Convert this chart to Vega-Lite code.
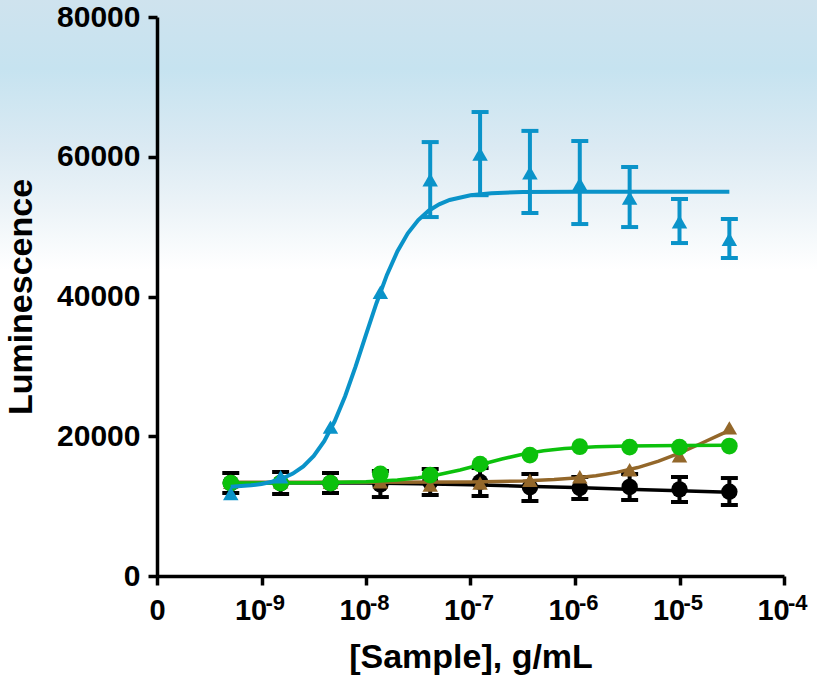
{
  "$schema": "https://vega.github.io/schema/vega-lite/v6.json",
  "width": 627,
  "height": 559,
  "autosize": {"type": "none"},
  "padding": {"left": 157, "top": 17, "right": 33, "bottom": 108},
  "background": "#ffffff",
  "config": {
    "view": {"stroke": null},
    "axis": {
      "grid": false,
      "domainColor": "#000000",
      "domainWidth": 3.5,
      "tickColor": "#000000",
      "tickWidth": 3.5,
      "tickSize": 9,
      "labelFont": "Liberation Sans",
      "labelFontWeight": "bold",
      "labelFontSize": 29,
      "labelColor": "#000000",
      "titleFont": "Liberation Sans",
      "titleFontWeight": "bold",
      "titleFontSize": 34,
      "titleColor": "#000000"
    }
  },
  "datasets": {
    "pts": [
      {"s": "black", "x": 5.081e-10, "y": 13300, "lo": 11880, "hi": 14740},
      {"s": "black", "x": 1.524e-9, "y": 13300, "lo": 11730, "hi": 14880},
      {"s": "black", "x": 4.572e-9, "y": 13300, "lo": 11880, "hi": 14740},
      {"s": "black", "x": 1.372e-8, "y": 13100, "lo": 11300, "hi": 15030},
      {"s": "black", "x": 4.115e-8, "y": 13450, "lo": 11590, "hi": 15310},
      {"s": "black", "x": 1.235e-7, "y": 13450, "lo": 11450, "hi": 15450},
      {"s": "black", "x": 3.704e-7, "y": 12700, "lo": 10730, "hi": 14600},
      {"s": "black", "x": 1.111e-6, "y": 12600, "lo": 11020, "hi": 14170},
      {"s": "black", "x": 3.333e-6, "y": 12750, "lo": 10880, "hi": 14600},
      {"s": "black", "x": 1e-5, "y": 12400, "lo": 10590, "hi": 14170},
      {"s": "black", "x": 3e-5, "y": 12050, "lo": 10160, "hi": 14020},
      {"s": "brown", "x": 5.081e-10, "y": 13400},
      {"s": "brown", "x": 1.524e-9, "y": 13500},
      {"s": "brown", "x": 4.572e-9, "y": 13400},
      {"s": "brown", "x": 1.372e-8, "y": 13500},
      {"s": "brown", "x": 4.115e-8, "y": 13000},
      {"s": "brown", "x": 1.235e-7, "y": 13300},
      {"s": "brown", "x": 3.704e-7, "y": 13700},
      {"s": "brown", "x": 1.111e-6, "y": 14200},
      {"s": "brown", "x": 3.333e-6, "y": 15200},
      {"s": "brown", "x": 1e-5, "y": 17200},
      {"s": "brown", "x": 3e-5, "y": 21200},
      {"s": "green", "x": 5.081e-10, "y": 13300},
      {"s": "green", "x": 1.524e-9, "y": 13300},
      {"s": "green", "x": 4.572e-9, "y": 13300},
      {"s": "green", "x": 1.372e-8, "y": 14600},
      {"s": "green", "x": 4.115e-8, "y": 14450},
      {"s": "green", "x": 1.235e-7, "y": 16000},
      {"s": "green", "x": 3.704e-7, "y": 17300},
      {"s": "green", "x": 1.111e-6, "y": 18500},
      {"s": "green", "x": 3.333e-6, "y": 18450},
      {"s": "green", "x": 1e-5, "y": 18450},
      {"s": "green", "x": 3e-5, "y": 18600},
      {"s": "blue", "x": 5.081e-10, "y": 11800},
      {"s": "blue", "x": 1.524e-9, "y": 14200},
      {"s": "blue", "x": 4.572e-9, "y": 21300},
      {"s": "blue", "x": 1.372e-8, "y": 40600},
      {"s": "blue", "x": 4.115e-8, "y": 56700, "lo": 51370, "hi": 62100},
      {"s": "blue", "x": 1.235e-7, "y": 60400, "lo": 54500, "hi": 66400},
      {"s": "blue", "x": 3.704e-7, "y": 57700, "lo": 51950, "hi": 63700},
      {"s": "blue", "x": 1.111e-6, "y": 56100, "lo": 50370, "hi": 62250},
      {"s": "blue", "x": 3.333e-6, "y": 54100, "lo": 49940, "hi": 58530},
      {"s": "blue", "x": 1e-5, "y": 50700, "lo": 47650, "hi": 53950},
      {"s": "blue", "x": 3e-5, "y": 48200, "lo": 45510, "hi": 51090}
    ],
    "fit": [
      {"s": "black", "x": 5.08e-10, "y": 13350},
      {"s": "black", "x": 1e-8, "y": 13300},
      {"s": "black", "x": 3.162e-8, "y": 13200},
      {"s": "black", "x": 1e-7, "y": 13050},
      {"s": "black", "x": 3.162e-7, "y": 12850},
      {"s": "black", "x": 1e-6, "y": 12650},
      {"s": "black", "x": 3.162e-6, "y": 12400},
      {"s": "black", "x": 1e-5, "y": 12200},
      {"s": "black", "x": 3e-5, "y": 12000},
      {"s": "brown", "x": 5.08e-10, "y": 13400},
      {"s": "brown", "x": 1e-8, "y": 13406},
      {"s": "brown", "x": 1e-7, "y": 13464},
      {"s": "brown", "x": 3.162e-7, "y": 13601},
      {"s": "brown", "x": 6.31e-7, "y": 13794},
      {"s": "brown", "x": 1e-6, "y": 14013},
      {"s": "brown", "x": 1.585e-6, "y": 14343},
      {"s": "brown", "x": 2.512e-6, "y": 14829},
      {"s": "brown", "x": 3.981e-6, "y": 15518},
      {"s": "brown", "x": 6.31e-6, "y": 16442},
      {"s": "brown", "x": 1e-5, "y": 17599},
      {"s": "brown", "x": 1.585e-5, "y": 18924},
      {"s": "brown", "x": 2.512e-5, "y": 20298},
      {"s": "brown", "x": 3e-5, "y": 20810},
      {"s": "green", "x": 5.08e-10, "y": 13304},
      {"s": "green", "x": 3.162e-9, "y": 13343},
      {"s": "green", "x": 1e-8, "y": 13488},
      {"s": "green", "x": 1.995e-8, "y": 13739},
      {"s": "green", "x": 3.162e-8, "y": 14049},
      {"s": "green", "x": 5.012e-8, "y": 14524},
      {"s": "green", "x": 7.943e-8, "y": 15178},
      {"s": "green", "x": 1.259e-7, "y": 15960},
      {"s": "green", "x": 1.995e-7, "y": 16748},
      {"s": "green", "x": 3.162e-7, "y": 17419},
      {"s": "green", "x": 5.012e-7, "y": 17912},
      {"s": "green", "x": 7.943e-7, "y": 18236},
      {"s": "green", "x": 1.585e-6, "y": 18501},
      {"s": "green", "x": 3.162e-6, "y": 18617},
      {"s": "green", "x": 1e-5, "y": 18681},
      {"s": "green", "x": 3e-5, "y": 18695},
      {"s": "blue", "x": 5.08e-10, "y": 12763},
      {"s": "blue", "x": 7.94e-10, "y": 12975},
      {"s": "blue", "x": 1e-9, "y": 13177},
      {"s": "blue", "x": 1.259e-9, "y": 13485},
      {"s": "blue", "x": 1.585e-9, "y": 13953},
      {"s": "blue", "x": 1.995e-9, "y": 14655},
      {"s": "blue", "x": 2.512e-9, "y": 15693},
      {"s": "blue", "x": 3.162e-9, "y": 17196},
      {"s": "blue", "x": 3.981e-9, "y": 19307},
      {"s": "blue", "x": 5.012e-9, "y": 22141},
      {"s": "blue", "x": 6.31e-9, "y": 25730},
      {"s": "blue", "x": 7.943e-9, "y": 29961},
      {"s": "blue", "x": 1e-8, "y": 34538},
      {"s": "blue", "x": 1.259e-8, "y": 39036},
      {"s": "blue", "x": 1.585e-8, "y": 43089},
      {"s": "blue", "x": 1.995e-8, "y": 46444},
      {"s": "blue", "x": 2.512e-8, "y": 49039},
      {"s": "blue", "x": 3.162e-8, "y": 50937},
      {"s": "blue", "x": 3.981e-8, "y": 52282},
      {"s": "blue", "x": 5.012e-8, "y": 53197},
      {"s": "blue", "x": 6.31e-8, "y": 53817},
      {"s": "blue", "x": 1e-7, "y": 54496},
      {"s": "blue", "x": 1.585e-7, "y": 54788},
      {"s": "blue", "x": 3.162e-7, "y": 54942},
      {"s": "blue", "x": 1e-6, "y": 54994},
      {"s": "blue", "x": 1e-5, "y": 55000},
      {"s": "blue", "x": 3e-5, "y": 55000}
    ],
    "exps": [
      {"x": 1e-9, "t": "-9"},
      {"x": 1e-8, "t": "-8"},
      {"x": 1e-7, "t": "-7"},
      {"x": 1e-6, "t": "-6"},
      {"x": 1e-5, "t": "-5"},
      {"x": 1e-4, "t": "-4"}
    ]
  },
  "layer": [
    {
      "data": {"values": [{"b": 1}]},
      "mark": {
        "type": "rect",
        "clip": false,
        "fill": {
          "gradient": "linear", "x1": 0, "y1": 0, "x2": 0, "y2": 1,
          "stops": [
            {"offset": 0, "color": "#cfe3ee"},
            {"offset": 0.26, "color": "#c6e3f0"},
            {"offset": 0.55, "color": "#dbeaf3"},
            {"offset": 0.78, "color": "#edf4f8"},
            {"offset": 1, "color": "#ffffff"}
          ]
        }
      },
      "encoding": {
        "x": {
          "datum": 1e-12, "type": "quantitative",
          "scale": {"type": "log", "domain": [1e-10, 1e-4]},
          "title": "[Sample], g/mL",
          "axis": {
            "title": "[Sample], g/mL",
            "zindex": 2,
            "values": [1e-10, 1e-9, 1e-8, 1e-7, 1e-6, 1e-5, 1e-4],
            "labelExpr": "datum.value < 2e-10 ? '0' : '10'",
            "labelOffset": {"condition": {"test": "datum.value < 2e-10", "value": 0}, "value": -11},
            "labelPadding": 11,
            "titlePadding": 15,
            "labelFlush": false,
            "labelOverlap": false
          }
        },
        "x2": {"datum": 1e-2},
        "y": {
          "datum": 82600, "type": "quantitative",
          "scale": {"domain": [0, 80000], "nice": false, "zero": true},
          "title": "Luminescence",
          "axis": {
            "title": "Luminescence",
            "zindex": 2,
            "values": [0, 20000, 40000, 60000, 80000],
            "format": "d",
            "labelFontSize": 30,
            "labelPadding": 8,
            "titlePadding": 18,
            "labelFlush": false,
            "labelOverlap": false
          }
        },
        "y2": {"datum": 43790}
      }
    },
    {
      "data": {"name": "exps"},
      "mark": {"type": "text", "align": "left", "baseline": "top", "dx": 4, "dy": 17, "font": "Liberation Sans", "fontWeight": "bold", "fontSize": 22, "color": "#000000"},
      "encoding": {
        "x": {"field": "x", "type": "quantitative", "title": "[Sample], g/mL"},
        "y": {"datum": 0, "type": "quantitative", "title": "Luminescence"},
        "text": {"field": "t"}
      }
    },
    {
      "encoding": {
        "x": {"field": "x", "type": "quantitative", "title": "[Sample], g/mL"},
        "y": {"field": "y", "type": "quantitative", "title": "Luminescence"}
      },
      "layer": [
        {"data": {"name": "fit"}, "transform": [{"filter": "datum.s == 'black'"}], "mark": {"type": "line", "color": "#000000", "strokeWidth": 3.5}},
        {"data": {"name": "pts"}, "transform": [{"filter": "datum.s == 'black' && isValid(datum.lo)"}], "mark": {"type": "rule", "color": "#000000", "strokeWidth": 4}, "encoding": {"y": {"field": "lo", "type": "quantitative", "title": "Luminescence"}, "y2": {"field": "hi"}}},
        {"data": {"name": "pts"}, "transform": [{"filter": "datum.s == 'black' && isValid(datum.lo)"}], "mark": {"type": "tick", "orient": "horizontal", "color": "#000000", "size": 17, "thickness": 4, "opacity": 1}, "encoding": {"y": {"field": "lo", "type": "quantitative", "title": "Luminescence"}}},
        {"data": {"name": "pts"}, "transform": [{"filter": "datum.s == 'black' && isValid(datum.lo)"}], "mark": {"type": "tick", "orient": "horizontal", "color": "#000000", "size": 17, "thickness": 4, "opacity": 1}, "encoding": {"y": {"field": "hi", "type": "quantitative", "title": "Luminescence"}}},
        {"data": {"name": "pts"}, "transform": [{"filter": "datum.s == 'black'"}], "mark": {"type": "point", "shape": "circle", "filled": true, "size": 270, "color": "#000000", "opacity": 1}},
        {"data": {"name": "fit"}, "transform": [{"filter": "datum.s == 'brown'"}], "mark": {"type": "line", "color": "#93672a", "strokeWidth": 3.5}},
        {"data": {"name": "pts"}, "transform": [{"filter": "datum.s == 'brown'"}], "mark": {"type": "point", "shape": "triangle-up", "filled": true, "size": 240, "color": "#93672a", "opacity": 1}},
        {"data": {"name": "fit"}, "transform": [{"filter": "datum.s == 'green'"}], "mark": {"type": "line", "color": "#0cc10c", "strokeWidth": 3.5}},
        {"data": {"name": "pts"}, "transform": [{"filter": "datum.s == 'green'"}], "mark": {"type": "point", "shape": "circle", "filled": true, "size": 280, "color": "#0cc10c", "opacity": 1}},
        {"data": {"name": "fit"}, "transform": [{"filter": "datum.s == 'blue'"}], "mark": {"type": "line", "color": "#0a93c9", "strokeWidth": 4}},
        {"data": {"name": "pts"}, "transform": [{"filter": "datum.s == 'blue' && isValid(datum.lo)"}], "mark": {"type": "rule", "color": "#0a93c9", "strokeWidth": 4}, "encoding": {"y": {"field": "lo", "type": "quantitative", "title": "Luminescence"}, "y2": {"field": "hi"}}},
        {"data": {"name": "pts"}, "transform": [{"filter": "datum.s == 'blue' && isValid(datum.lo)"}], "mark": {"type": "tick", "orient": "horizontal", "color": "#0a93c9", "size": 17, "thickness": 4, "opacity": 1}, "encoding": {"y": {"field": "lo", "type": "quantitative", "title": "Luminescence"}}},
        {"data": {"name": "pts"}, "transform": [{"filter": "datum.s == 'blue' && isValid(datum.lo)"}], "mark": {"type": "tick", "orient": "horizontal", "color": "#0a93c9", "size": 17, "thickness": 4, "opacity": 1}, "encoding": {"y": {"field": "hi", "type": "quantitative", "title": "Luminescence"}}},
        {"data": {"name": "pts"}, "transform": [{"filter": "datum.s == 'blue'"}], "mark": {"type": "point", "shape": "triangle-up", "filled": true, "size": 240, "color": "#0a93c9", "opacity": 1}}
      ]
    }
  ]
}
